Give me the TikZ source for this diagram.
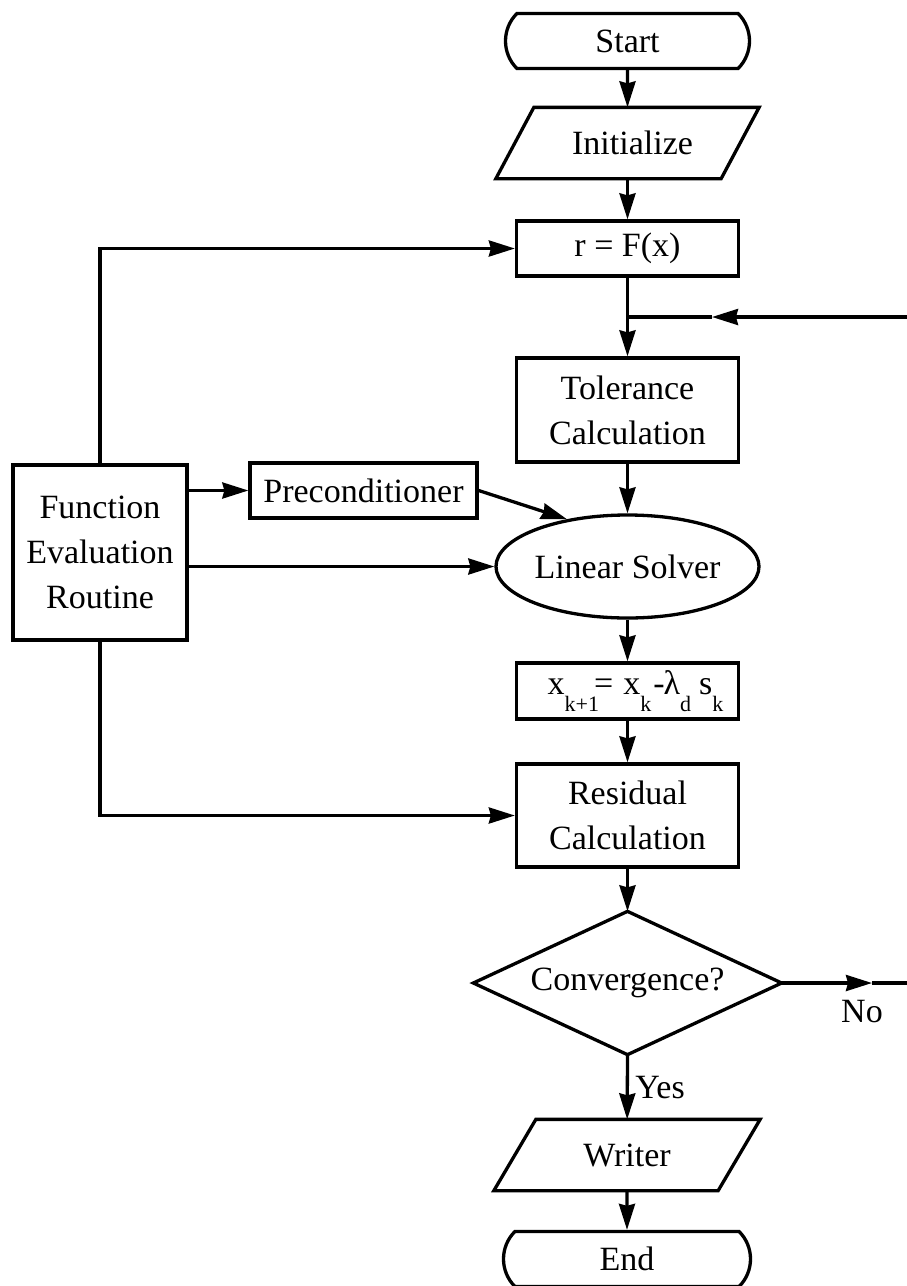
\documentclass[tikz,border=0pt]{standalone}
\usepackage{fontspec}
\setmainfont{Liberation Serif}
\usetikzlibrary{arrows.meta,shapes.geometric,shapes.misc,calc}
\newcommand\lowsub[1]{\raisebox{-17pt}{\fontsize{22}{22}\selectfont #1}}
\begin{document}
\begin{tikzpicture}[x=1pt,y=-1pt,line width=3.3pt,
  every node/.style={font=\fontsize{34}{45}\selectfont, inner sep=0pt, align=center},
  box/.style={draw, rectangle, minimum width=222pt},
  term/.style={draw, rounded rectangle, rounded rectangle arc length=90, minimum width=244pt, minimum height=55pt},
  parabox/.style={rectangle, minimum height=68pt},
  arr/.style={-{Stealth[length=26pt,width=16pt,inset=2pt]}}]
\useasboundingbox (0,0) rectangle (907,1286);

\node[term] (start) at (627.5,41) {Start};
\node[parabox, minimum width=260pt] (init) at (627.5,143) {\hspace{10pt}Initialize};
\draw ($(init.north west)+(38,0)$) -- (init.north east) -- ($(init.south east)-(38,0)$) -- (init.south west) -- cycle;
\node[box, minimum height=55pt] (rfx) at (627.5,248.5) {r = F(x)};
\node[box, minimum height=104pt] (tol) at (627.5,410) {Tolerance\\Calculation};
\node[draw, rectangle, minimum width=174pt, minimum height=175pt] (fer) at (100,552.5) {Function\\Evaluation\\Routine};
\node[draw, rectangle, minimum width=227pt, minimum height=55pt] (pre) at (363.5,490.5) {Preconditioner};
\node[draw, ellipse, minimum width=215pt, minimum height=103pt] (ls) at (627.5,566.5) {Linear Solver};
\node[box, minimum height=56pt] (xk) at (627.5,691) {\hspace{16pt}x\lowsub{k+1}\kern-5pt=\kern10pt x\lowsub{k}\kern2pt-\kern-1ptλ\lowsub{d}\kern8pt s\lowsub{k}};
\node[box, minimum height=103pt] (res) at (627.5,815.5) {Residual\\Calculation};
\node[rectangle, minimum width=305pt, minimum height=140pt] (conv) at (627.5,983) {Convergence?};
\draw (conv.north) -- (conv.east) -- (conv.south) -- (conv.west) -- cycle;
\node[parabox, minimum width=263pt] (writer) at (627,1155) {Writer};
\draw ($(writer.north west)+(42,0)$) -- (writer.north east) -- ($(writer.south east)-(42,0)$) -- (writer.south west) -- cycle;
\node[term, minimum width=247pt] (end) at (627,1259) {End};

\node (no) at (862,1012) {No};
\node (yes) at (660,1088) {Yes};

\coordinate (rin) at (907,317);
\coordinate (rmid) at (712,317);
\coordinate (jn) at (rfx.south |- rin);
\coordinate (nmid) at (872,983);
\coordinate (nout) at (907,983);

\draw[arr] (start) -- (init);
\draw[arr] (init) -- (rfx);
\draw[arr] (rfx) -- (tol);
\draw[arr] (rin) -- (rmid);
\draw (rmid) -- (jn);
\draw[arr] (tol) -- (ls);
\draw[arr] (ls) -- (xk);
\draw[arr] (xk) -- (res);
\draw[arr] (res) -- (conv.north);
\draw[arr] (conv.south) -- (writer);
\draw[arr] (writer) -- (end);
\draw[arr] (conv.east) -- (nmid);
\draw (nmid) -- (nout);

\draw[arr] (fer.north) |- (rfx.west);
\draw[arr] (fer.south) |- (res.west);
\draw[arr] (pre.west -| fer.east) -- (pre.west);
\draw[arr] (ls.west -| fer.east) -- (ls.west);
\draw[arr] (pre.east) -- (ls.142);
\end{tikzpicture}
\end{document}
